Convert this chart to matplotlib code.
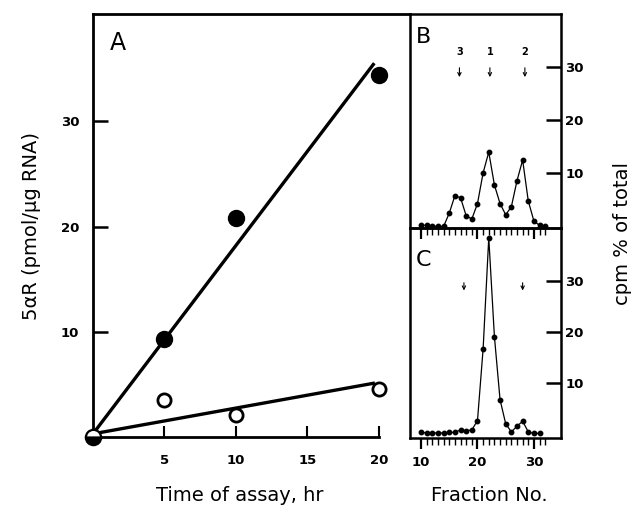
import matplotlib
matplotlib.use("Agg")
import matplotlib.pyplot as plt
from matplotlib.ticker import FixedLocator

# Panel A: 5aR activity vs time of assay
time_hr = [5, 10, 20]
filled_vals = [9.3, 20.8, 34.4]
open_vals = [3.5, 2.1, 4.6]
fit_x = [0, 19.6]
fit_filled = [0.3, 35.4]
fit_open = [0.3, 5.1]
a_xticks = [5, 10, 15, 20]
a_yticks = [10, 20, 30]

# Panels B and C: gradient fractions
fractions = list(range(10, 33))
b_vals = [0.2, 0.2, 0.1, 0.0, 0.0, 2.5, 5.8, 5.4, 2.0, 1.4, 4.3, 10.1,
          14.0, 7.8, 4.3, 2.2, 3.7, 8.6, 12.5, 4.8, 1.0, 0.2, 0.0]
c_fractions = list(range(10, 32))
c_vals = [0.3, 0.2, 0.2, 0.2, 0.2, 0.3, 0.3, 0.8, 0.6, 0.8, 2.6, 16.7,
          38.5, 19.1, 6.7, 2.0, 0.4, 1.5, 2.5, 0.4, 0.1, 0.1]
b_arrow_x = [16.8, 22.2, 28.4]
b_arrow_labels = ["3", "1", "2"]
c_arrow_x = [17.6, 28.0]
bc_yticks = [10, 20, 30]
bc_xticks = [10, 20, 30]
bc_minor = list(range(10, 33))

fig = plt.figure(figsize=(6.36, 5.18), dpi=100)
tickfont = dict(fontsize=9.5, fontweight="bold")

# ---- panel A ----
ax = fig.add_axes([0.1462, 0.1564, 0.4985, 0.8166])
ax.set_xlim(0, 22.17)
ax.set_ylim(0, 40.2)
ax.plot(fit_x, fit_filled, color="black", lw=2.4, zorder=2)
ax.plot(fit_x, fit_open, color="black", lw=2.4, zorder=2)
ax.plot(time_hr, filled_vals, "o", color="black", ms=11.5, zorder=3)
ax.plot(time_hr, open_vals, "o", mfc="white", mec="black", mew=2.0, ms=9.5, zorder=3)
ax.plot([0], [0], "o", fillstyle="bottom", mfc="black", mfcalt="white",
        mec="black", mew=1.6, ms=11, clip_on=False, zorder=4)
ax.spines["right"].set_visible(False)
ax.spines["bottom"].set_bounds(0, 20)
for s in ["left", "top", "bottom"]:
    ax.spines[s].set_linewidth(2.0)
ax.set_xticks(a_xticks)
ax.set_yticks(a_yticks)
ax.set_xticklabels([str(t) for t in a_xticks], **tickfont)
ax.set_yticklabels([str(t) for t in a_yticks], **tickfont)
ax.tick_params(axis="x", direction="in", length=8, width=1.5, pad=12)
ax.tick_params(axis="y", direction="in", length=11, width=1.8, pad=10)
ax.text(1.2, 36.8, "A", fontsize=17)

# ---- panel C (drawn first so B's hanging ticks stay on top) ----
axc = fig.add_axes([0.6447, 0.1544, 0.2374, 0.4054])
axc.plot(c_fractions, c_vals, "-o", color="black", lw=0.9, ms=3.2)
axc.set_ylim(-0.8, 40.4)
for x in c_arrow_x:
    axc.annotate("", xy=(x, 27.6), xytext=(x, 30.2),
                 arrowprops=dict(arrowstyle="->", lw=0.8, color="black",
                                 mutation_scale=6))
axc.text(9.0, 33.0, "C", fontsize=16)

# ---- panel B ----
axb = fig.add_axes([0.6447, 0.5598, 0.2374, 0.4131])
axb.patch.set_alpha(0)
axb.plot(fractions, b_vals, "-o", color="black", lw=0.9, ms=3.2)
axb.set_ylim(-0.3, 40)
for x, lab in zip(b_arrow_x, b_arrow_labels):
    axb.annotate("", xy=(x, 27.6), xytext=(x, 30.4),
                 arrowprops=dict(arrowstyle="->", lw=0.8, color="black",
                                 mutation_scale=6))
    axb.text(x, 32.0, lab, ha="center", va="bottom", fontsize=7, fontweight="bold")
axb.text(9.0, 34.5, "B", fontsize=16)

for a in (axb, axc):
    a.set_xlim(8.05, 34.8)
    for s in a.spines.values():
        s.set_linewidth(1.8)
    a.yaxis.tick_right()
    a.set_yticks(bc_yticks)
    a.set_yticklabels([str(t) for t in bc_yticks], **tickfont)
    a.tick_params(axis="y", direction="in", length=11, width=1.8, pad=3)
    a.set_xticks(bc_xticks)
    a.xaxis.set_minor_locator(FixedLocator(bc_minor))
    a.tick_params(axis="x", which="major", direction="out", length=8, width=1.6)
    a.tick_params(axis="x", which="minor", direction="out", length=5, width=1.0)

axb.set_xticklabels([])
axc.set_xticklabels([str(t) for t in bc_xticks], **tickfont)
axc.tick_params(axis="x", which="major", pad=5)

# axis titles
fig.text(0.377, 0.044, "Time of assay, hr", fontsize=14, ha="center", va="center")
fig.text(0.770, 0.044, "Fraction No.", fontsize=14, ha="center", va="center")
fig.text(0.050, 0.563, "5\u03b1R (pmol/\u00b5g RNA)", fontsize=14, rotation=90,
         ha="center", va="center")
fig.text(0.978, 0.550, "cpm % of total", fontsize=14, rotation=90,
         ha="center", va="center")

fig.savefig("out.png", dpi=100)
